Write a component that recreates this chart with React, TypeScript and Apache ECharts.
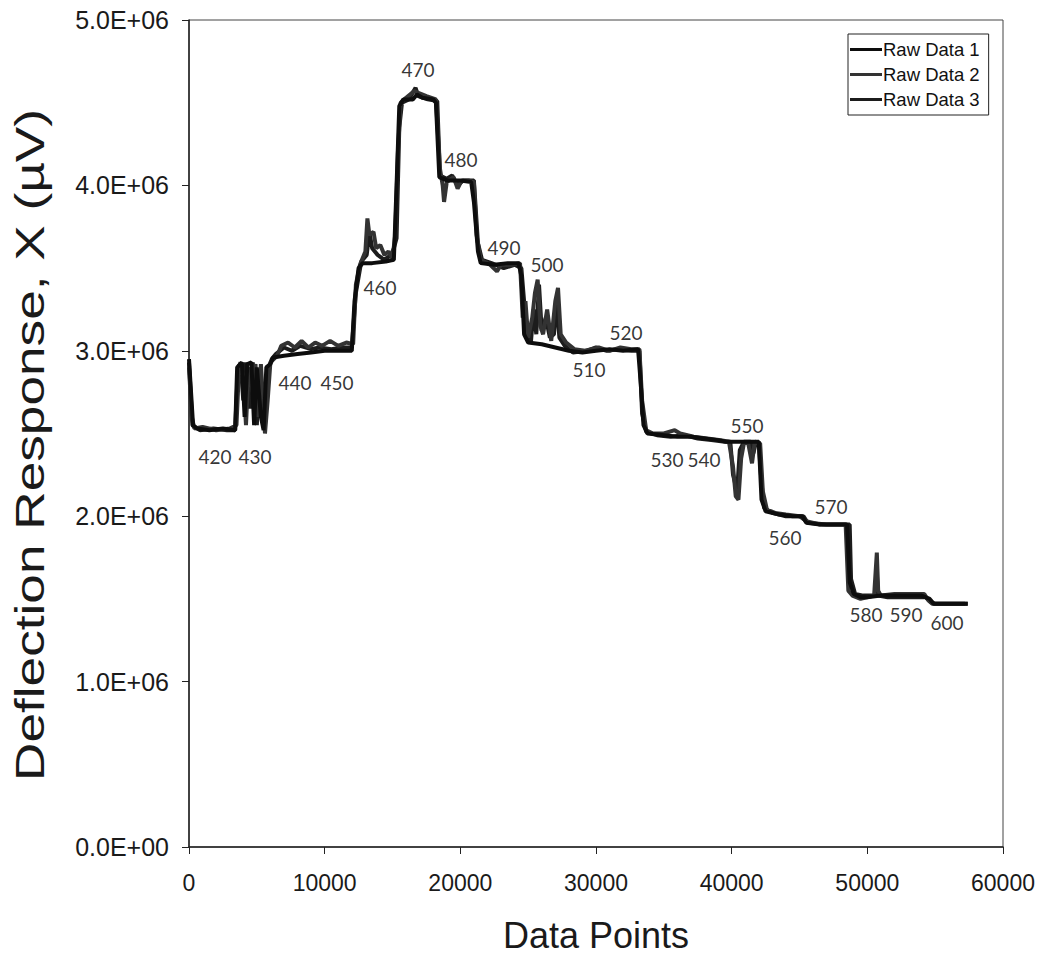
import React, { useEffect, useRef } from "react";
import * as echarts from "echarts";

// Deflection response traces, [data point index, response in 10^6 µV]
const raw1: [number, number][] = [
  [0, 2.95], [150, 2.75], [300, 2.55], [600, 2.53], [1500, 2.52], [2500, 2.53], [3400, 2.52],
  [3550, 2.9], [3900, 2.93], [4100, 2.6], [4300, 2.92], [4600, 2.93], [4800, 2.55], [5000, 2.9],
  [5300, 2.6], [5500, 2.52], [5700, 2.9], [6000, 2.92], [6200, 2.96], [7000, 2.97], [8000, 2.98],
  [9000, 2.99], [10000, 3.0], [11000, 3.0], [12000, 3.0], [12200, 3.3], [12500, 3.5], [12800, 3.53],
  [13500, 3.53], [14500, 3.54], [15100, 3.55], [15300, 4.0], [15500, 4.48], [15800, 4.52],
  [16500, 4.52], [16800, 4.55], [17200, 4.53], [18000, 4.52], [18200, 4.5], [18450, 4.05],
  [19000, 4.03], [20000, 4.03], [20800, 4.02], [21000, 3.9], [21300, 3.6], [21500, 3.53],
  [22500, 3.52], [23500, 3.53], [24300, 3.53], [24500, 3.45], [24700, 3.1], [25000, 3.05],
  [26000, 3.04], [27000, 3.02], [28000, 3.0], [29000, 2.99], [30000, 3.0], [31000, 3.01],
  [32000, 3.0], [33100, 3.01], [33300, 2.8], [33500, 2.55], [33800, 2.5], [35000, 2.49],
  [36000, 2.48], [37000, 2.48], [38000, 2.47], [39000, 2.46], [39600, 2.45], [40000, 2.45],
  [41000, 2.45], [42000, 2.45], [42200, 2.1], [42500, 2.03], [43500, 2.01], [44500, 2.0],
  [45200, 2.0], [45500, 1.96], [46500, 1.95], [48500, 1.95], [48700, 1.6], [49000, 1.53],
  [49500, 1.51], [50000, 1.51], [51000, 1.52], [52000, 1.52], [53000, 1.52], [54000, 1.52],
  [54600, 1.5], [54900, 1.47], [56000, 1.47], [57400, 1.47],
];

const raw2: [number, number][] = [
  [0, 2.9], [200, 2.6], [400, 2.53], [1000, 2.54], [2000, 2.52], [3000, 2.53], [3500, 2.55],
  [3700, 2.92], [4000, 2.85], [4200, 2.55], [4400, 2.9], [4700, 2.75], [4900, 2.92], [5100, 2.6],
  [5300, 2.92], [5600, 2.5], [5800, 2.7], [6000, 2.93], [6500, 2.97], [6800, 3.03], [7300, 3.05],
  [7800, 3.02], [8300, 3.06], [8800, 3.02], [9300, 3.05], [9800, 3.03], [10400, 3.06],
  [11000, 3.03], [11600, 3.05], [12100, 3.04], [12300, 3.4], [12600, 3.52], [13000, 3.6],
  [13150, 3.8], [13300, 3.7], [13600, 3.72], [13800, 3.62], [14100, 3.64], [14400, 3.58],
  [14700, 3.6], [15000, 3.56], [15200, 3.7], [15400, 4.2], [15600, 4.5], [16000, 4.53],
  [16600, 4.57], [16900, 4.56], [17500, 4.54], [18200, 4.52], [18500, 4.1], [18700, 4.0],
  [18800, 3.9], [19000, 4.02], [19500, 4.05], [19800, 3.98], [20100, 4.03], [20600, 4.03],
  [21000, 4.02], [21200, 3.7], [21500, 3.55], [22200, 3.52], [22700, 3.48], [23000, 3.52],
  [23800, 3.52], [24400, 3.53], [24600, 3.2], [24800, 3.3], [25000, 3.08], [25300, 3.2],
  [25500, 3.35], [25700, 3.43], [25900, 3.15], [26100, 3.1], [26400, 3.25], [26700, 3.06],
  [27000, 3.3], [27200, 3.38], [27400, 3.1], [27800, 3.05], [28400, 3.01], [29200, 3.0],
  [30200, 3.02], [31000, 3.0], [31800, 3.02], [32600, 3.01], [33200, 3.01], [33400, 2.7],
  [33700, 2.52], [34200, 2.5], [35000, 2.5], [35800, 2.52], [36200, 2.5], [37200, 2.48],
  [38200, 2.47], [39200, 2.46], [39800, 2.45], [40100, 2.3], [40300, 2.12], [40500, 2.1],
  [40700, 2.35], [40900, 2.44], [41200, 2.45], [41500, 2.32], [41700, 2.45], [42100, 2.44],
  [42300, 2.15], [42600, 2.04], [43200, 2.02], [44000, 2.01], [45000, 2.0], [45500, 1.97],
  [46500, 1.95], [48400, 1.95], [48600, 1.55], [48900, 1.52], [49500, 1.5], [50500, 1.52],
  [50700, 1.78], [50800, 1.55], [51000, 1.52], [52000, 1.53], [53000, 1.53], [54200, 1.53],
  [54500, 1.49], [54800, 1.47], [56000, 1.47], [57200, 1.47],
];

const raw3: [number, number][] = [
  [0, 2.93], [250, 2.55], [800, 2.52], [1800, 2.53], [2800, 2.52], [3400, 2.52], [3600, 2.88],
  [3800, 2.93], [4000, 2.7], [4200, 2.93], [4500, 2.65], [4700, 2.93], [5000, 2.55], [5200, 2.88],
  [5400, 2.7], [5600, 2.55], [5800, 2.88], [6100, 2.95], [6400, 2.98], [7000, 3.02], [7600, 3.0],
  [8200, 3.03], [9000, 3.01], [9600, 3.02], [10500, 3.01], [11300, 3.02], [12000, 3.02],
  [12300, 3.35], [12700, 3.54], [13100, 3.58], [13300, 3.72], [13500, 3.62], [13900, 3.58],
  [14400, 3.55], [14900, 3.58], [15100, 3.62], [15300, 3.68], [15500, 4.35], [15700, 4.5],
  [16200, 4.52], [16700, 4.59], [16900, 4.54], [17600, 4.52], [18300, 4.51], [18500, 4.06],
  [19000, 4.04], [19400, 4.06], [19800, 4.0], [20200, 4.03], [21000, 4.03], [21300, 3.65],
  [21600, 3.55], [22300, 3.53], [23200, 3.5], [24000, 3.52], [24500, 3.5], [24700, 3.3],
  [24900, 3.1], [25200, 3.05], [25400, 3.25], [25600, 3.1], [25800, 3.4], [26000, 3.12],
  [26300, 3.2], [26600, 3.08], [26900, 3.1], [27100, 3.3], [27300, 3.08], [27700, 3.03],
  [28300, 2.99], [29300, 3.0], [30000, 3.02], [30800, 3.0], [31600, 3.01], [32600, 3.0],
  [33200, 3.0], [33400, 2.62], [33700, 2.51], [34500, 2.49], [35500, 2.48], [36500, 2.49],
  [37500, 2.47], [38500, 2.46], [39500, 2.45], [39900, 2.45], [40100, 2.25], [40400, 2.15],
  [40600, 2.4], [40900, 2.45], [41400, 2.45], [41600, 2.38], [41800, 2.45], [42000, 2.44],
  [42200, 2.2], [42400, 2.05], [43000, 2.02], [44000, 2.0], [45300, 2.0], [45600, 1.96],
  [47000, 1.95], [48700, 1.95], [48800, 1.62], [49100, 1.53], [49700, 1.52], [50600, 1.52],
  [50700, 1.65], [50800, 1.52], [51500, 1.51], [52500, 1.51], [53500, 1.51], [54300, 1.51],
  [54700, 1.48], [55000, 1.47], [56500, 1.47], [57400, 1.47],
];

const seriesNames = ["Raw Data 1", "Raw Data 2", "Raw Data 3"];
const seriesColors = ["#0d0d0d", "#333333", "#1c1c1c"];

// Step annotations: label, x position, y position (10^6 µV)
const stepLabels = ["420", "430", "440", "450", "460", "470", "480", "490", "500", "510",
  "520", "530", "540", "550", "560", "570", "580", "590", "600"];
const stepX = [1916, 4865, 7813, 10909, 14079, 16880, 20049, 23219, 26388, 29484,
  32211, 35233, 37961, 41130, 43931, 47322, 49902, 52851, 55873];
const stepY = [2.358, 2.358, 2.811, 2.811, 3.38, 4.698, 4.154, 3.622, 3.519, 2.884,
  3.108, 2.34, 2.34, 2.551, 1.874, 2.056, 1.403, 1.403, 1.36];

const UNIT = 1e6;
const Y_TITLE = "Deflection Response, X (µV)";

const sciLabel = (v: number) => {
  if (v === 0) return "0.0E+00";
  const exp = Math.floor(Math.log10(Math.abs(v)) + 1e-9);
  const mant = v / Math.pow(10, exp);
  return `${mant.toFixed(1)}E+${String(exp).padStart(2, "0")}`;
};

export default function App() {
  const ref = useRef<HTMLDivElement>(null);

  useEffect(() => {
    document.body.style.margin = "0";
    if (!ref.current) return;
    const chart = echarts.init(ref.current, undefined, { renderer: "svg" });
    const traces = [raw1, raw2, raw3];
    const axisFont = "'Liberation Sans', Arial, sans-serif";

    chart.setOption({
      animation: false,
      backgroundColor: "#ffffff",
      grid: { left: 189, top: 20, right: 43, bottom: 114, show: true, borderColor: "#444", borderWidth: 1 },
      // vertical axis title, drawn elongated along its reading direction
      graphic: [
        {
          type: "text",
          x: 30,
          y: 445,
          rotation: Math.PI / 2,
          scaleX: 1.33,
          style: {
            text: Y_TITLE,
            font: `40px ${axisFont}`,
            fill: "#1a1a1a",
            textAlign: "center",
            textVerticalAlign: "middle",
          },
        },
      ],
      legend: {
        data: seriesNames,
        orient: "vertical",
        left: 848,
        top: 34,
        padding: [6, 9, 6, 2],
        itemGap: 6,
        itemWidth: 32,
        itemHeight: 3,
        icon: "rect",
        backgroundColor: "#fff",
        borderColor: "#222",
        borderWidth: 1,
        textStyle: { fontFamily: axisFont, fontSize: 18.5, color: "#111", padding: [0, 0, 0, -4] },
      },
      xAxis: {
        type: "value",
        min: 0,
        max: 60000,
        interval: 10000,
        name: "Data Points",
        nameLocation: "middle",
        nameGap: 70,
        nameTextStyle: { fontFamily: axisFont, fontSize: 36, color: "#1a1a1a" },
        axisLine: { show: true, onZero: false, lineStyle: { color: "#222", width: 1.5 } },
        axisTick: { show: true, length: 7, lineStyle: { color: "#222" } },
        axisLabel: { fontFamily: axisFont, fontSize: 23, color: "#1a1a1a", margin: 24, formatter: (v: number) => String(v) },
        splitLine: { show: false },
      },
      yAxis: {
        type: "value",
        min: 0,
        max: 5 * UNIT,
        interval: UNIT,
        axisLine: { show: true, lineStyle: { color: "#222", width: 1.5 } },
        axisTick: { show: true, length: 7, inside: false, lineStyle: { color: "#222" } },
        axisLabel: { fontFamily: axisFont, fontSize: 25, color: "#1a1a1a", margin: 20, formatter: sciLabel },
        splitLine: { show: false },
      },
      series: [
        ...traces.map((t, i) => ({
          name: seriesNames[i],
          type: "line",
          data: t.map(([x, y]) => [x, y * UNIT]),
          symbol: "none",
          lineStyle: { color: seriesColors[i], width: 4 },
          itemStyle: { color: seriesColors[i] },
          z: 3 - i,
        })),
        {
          name: "steps",
          type: "scatter",
          symbolSize: 0,
          data: stepLabels.map((s, i) => ({ name: s, value: [stepX[i], stepY[i] * UNIT] })),
          label: {
            show: true,
            position: "inside",
            formatter: (p: any) => p.name,
            fontFamily: "Lato, 'Open Sans', sans-serif",
            fontSize: 19,
            color: "#000",
          },
          z: 5,
        },
      ],
    });
    return () => chart.dispose();
  }, []);

  return <div ref={ref} style={{ width: 1046, height: 961 }} />;
}
